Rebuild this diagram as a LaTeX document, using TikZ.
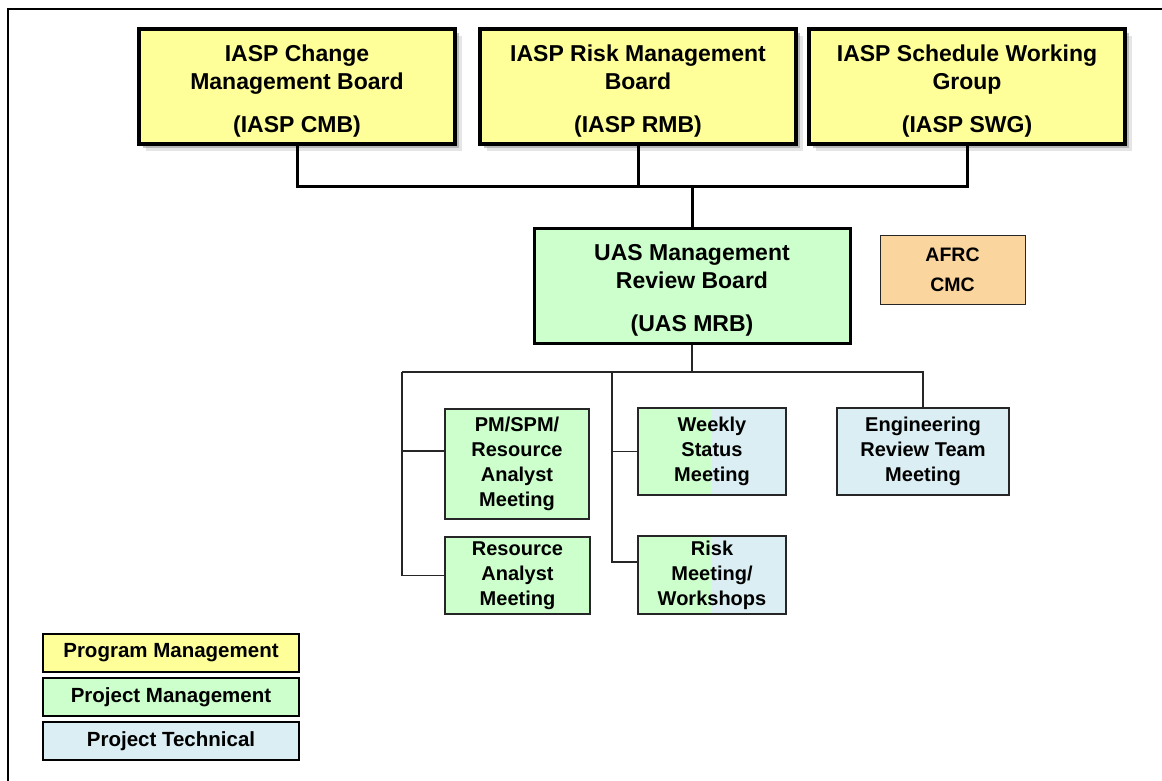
\documentclass[tikz,border=0pt]{standalone}
\usepackage{fontspec}
\setmainfont{Liberation Sans}
\usetikzlibrary{positioning}
\usetikzlibrary{shadows}

\definecolor{progyellow}{HTML}{FFFF99}
\definecolor{projgreen}{HTML}{CCFFCC}
\definecolor{techblue}{HTML}{DAEEF3}
\definecolor{afrcorange}{RGB}{250,213,158}

\newcommand\boardstrut{\rule{0pt}{25pt}}

\tikzset{
  board/.style={draw, line width=3.5pt, fill=progyellow, minimum width=316pt,
    minimum height=115pt, align=center, inner sep=0pt,
    font=\bfseries\fontsize{23}{28}\selectfont,
    drop shadow={shadow xshift=7pt, shadow yshift=-7pt, fill=black!20, opacity=.5},
    drop shadow={shadow xshift=4pt, shadow yshift=-4pt, fill=black!40, opacity=.6}},
  mrb/.style={draw, line width=3pt, fill=projgreen, minimum width=316pt,
    minimum height=115pt, align=center, inner sep=0pt,
    font=\bfseries\fontsize{23}{28}\selectfont},
  meeting/.style={draw=black!85, line width=1.2pt, fill=projgreen, align=center,
    inner sep=0pt, font=\bfseries\fontsize{20}{25}\selectfont},
  split/.style={meeting, path picture={\fill[techblue]
    (path picture bounding box.north) rectangle (path picture bounding box.south east);}},
  keybox/.style={draw, line width=2.5pt, minimum width=256pt, minimum height=38pt,
    inner sep=0pt, font=\bfseries\fontsize{20.5}{24}\selectfont},
  bus/.style={line width=3pt},
  branch/.style={draw=black!85, line width=1.1pt}
}

\begin{document}
\begin{tikzpicture}[x=1pt,y=-1pt]
\useasboundingbox (0,0) rectangle (1162,781);
\draw[line width=2pt] (1162,9) -- (8,9) -- (8,781);

\node[board] (CMB) at (297,86.5) {\boardstrut IASP Change\\Management Board\\[15pt](IASP CMB)};
\node[board] (RMB) at (638,86.5) {\boardstrut IASP Risk Management\\Board\\[15pt](IASP RMB)};
\node[board] (SWG) at (967,86.5) {\boardstrut IASP Schedule Working\\Group\\[15pt](IASP SWG)};

\node[mrb] (MRB) at (692,285.5) {\boardstrut UAS Management\\Review Board\\[15pt](UAS MRB)};
\node[draw=black!85, line width=1pt, fill=afrcorange, minimum width=145pt, minimum height=69pt,
  align=center, inner sep=0pt, font=\bfseries\fontsize{19.5}{30}\selectfont]
  (AFRC) at (952.5,269.5) {AFRC\\CMC};

\node[meeting, minimum width=144pt, minimum height=110pt] (PMM) at (517,464) {PM/SPM/\\Resource\\Analyst\\Meeting};
\node[meeting, minimum width=145pt, minimum height=77pt] (RAM) at (517.5,575.5) {Resource\\Analyst\\Meeting};
\node[split, minimum width=148pt, minimum height=87pt] (WSM) at (712,451.5) {Weekly\\Status\\Meeting};
\node[split, minimum width=148pt, minimum height=78pt] (RMW) at (712,575) {Risk\\Meeting/\\Workshops};
\node[meeting, fill=techblue, minimum width=172pt, minimum height=87pt] (ERT) at (923,451.5) {Engineering\\Review Team\\Meeting};

\node[keybox, fill=progyellow] (keyprog) at (171,653) {Program Management};
\node[keybox, fill=projgreen] (keyproj) at (171,697) {Project Management};
\node[keybox, fill=techblue] (keytech) at (171,741) {Project Technical};

\coordinate (topbus) at (692,186);
\draw[bus] (CMB.south) |- (SWG.south |- topbus) -- (SWG.south);
\draw[bus] (RMB.south) -- (RMB.south |- topbus);
\draw[bus] (MRB.north) -- (topbus);

\coordinate (lowbus) at (692,372);
\coordinate (lbranch) at (402,372);
\coordinate (mbranch) at (612,372);
\draw[branch] (MRB.south) -- (lowbus);
\draw[branch] (lbranch) -- (ERT.north |- lowbus) -- (ERT.north);
\draw[branch] (lbranch) |- (RAM.west);
\draw[branch] (lbranch |- 0,451) -- ([yshift=13pt]PMM.west);
\draw[branch] (mbranch) |- ([yshift=13pt]RMW.west);
\draw[branch] (mbranch |- WSM.west) -- (WSM.west);
\end{tikzpicture}
\end{document}
